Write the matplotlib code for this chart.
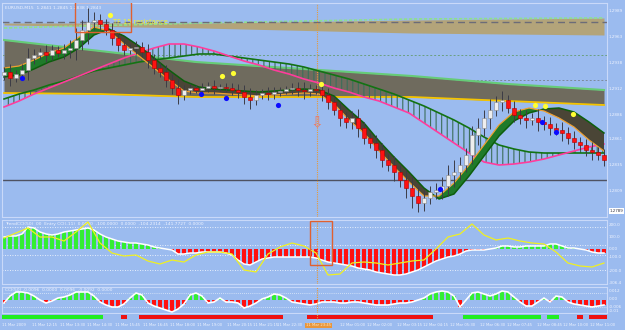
import matplotlib
matplotlib.use("Agg")
import matplotlib.pyplot as plt
import numpy as np

BG = "#9bbbef"
FRAME = "#c9d9f9"
TXT = "#eef3ff"

# ---- main panel (price units: pips above 1.2000) ----
first_open = 925
closes = [928, 922, 926, 930, 942, 945, 948, 945, 950, 947,
          950, 952, 960, 970, 978, 980, 976, 970, 962, 955,
          950, 952, 953, 948, 940, 932, 928, 920, 912, 905,
          910, 912, 910, 912, 914, 912, 913, 912, 910, 908,
          903, 900, 905, 907, 906, 908, 909, 911, 912, 910,
          909, 911, 910, 905, 898, 890, 882, 878, 882, 872,
          862, 857, 850, 840, 835, 828, 820, 812, 804, 797,
          802, 808, 810, 814, 825, 828, 835, 845, 865, 872,
          882, 890, 898, 900, 892, 885, 882, 880, 882, 878,
          876, 872, 870, 867, 862, 858, 855, 850, 848, 845, 840]
wick = [5, 8, 4, 6, 10, 6, 4, 7, 5, 4, 6, 8, 12, 10, 14, 8, 6, 5, 7, 6,
        5, 4, 6, 5, 8, 6, 5, 7, 6, 9, 5, 4, 3, 5, 4, 6, 3, 4, 5, 6,
        7, 9, 5, 4, 6, 5, 4, 3, 5, 6, 8, 5, 4, 6, 7, 5, 8, 6, 7, 9,
        6, 5, 8, 7, 6, 9, 7, 10, 12, 9, 8, 6, 7, 9, 10, 12, 8, 7, 9, 10,
        8, 11, 6, 9, 5, 7, 6, 8, 5, 9, 6, 7, 5, 8, 6, 7, 5, 6, 8, 5, 6]

rib_x = np.arange(0, 101, 2.5)
fast = [932, 934, 940, 947, 952, 963, 973, 969, 956, 944, 932, 920, 909, 907,
        907, 906, 905, 904, 905, 906, 907, 906, 896, 880, 867, 849, 833, 818,
        804, 804, 817, 835, 855, 875, 888, 892, 889, 882, 873, 860, 849]
slow = [923, 925, 931, 938, 943, 952, 965, 971, 964, 954, 942, 930, 919, 913,
        911, 910, 909, 908, 909, 910, 911, 910, 904, 890, 877, 859, 843, 828,
        812, 801, 806, 824, 844, 864, 879, 887, 891, 892, 888, 878, 867]
ma_green = [901, 906, 910, 915, 919, 924, 929, 932, 935, 938, 940, 942, 944,
            946, 946, 944, 942, 940, 938, 936, 933, 929, 925, 921, 916, 911,
            906, 900, 894, 887, 880, 872, 863, 855, 851, 848, 847, 847, 847,
            847, 847]
ma_pink = [893, 899, 906, 912, 918, 924, 930, 936, 942, 947, 952, 956, 956,
           953, 949, 944, 939, 935, 930, 926, 921, 917, 912, 908, 903, 899,
           893, 887, 877, 867, 857, 847, 838, 835, 836, 838, 841, 845, 849,
           853, 856]

cloud_x = [0, 16, 32, 50, 68, 84, 100]
cloud_top = [960, 949, 938, 931, 924, 916, 910]
cloud_bot = [907, 906, 903, 903, 903, 899, 895]

tan_x = [0, 33, 68, 100]
tan_top = [977, 977, 980, 982]
tan_bot = [975, 972, 967, 965]
tan_line = [972, 977, 981, 982]

yellow_x = [17.7, 36.3, 38.2, 52.8, 88.5, 90.2, 94.8]
yellow_v = [985, 924, 927, 916, 895, 894, 886]
blue_x = [3.0, 32.8, 37.0, 45.7, 72.7, 89.7, 92.0]
blue_v = [922, 906, 902, 895, 811, 878, 868]

price_ticks = [989, 963, 938, 912, 886, 861, 835, 809]

# ---- sub panel 1 ----
hist1 = [12, 13, 13, 15, 22, 21, 17, 15, 14, 15, 17, 18, 19, 20, 21, 19, 15,
         12, 10, 8, 7, 6, 6, 5, 4, 2, 1, 0, -1, -5, -5, -4, -4, -3, -3, -3,
         -3, -4, -6, -11, -15, -16, -13, -10, -9, -8, -8, -8, -8, -8, -8, -8,
         -9, -11, -13, -14, -15, -16, -17, -19, -20, -21, -23, -24, -25, -26,
         -26, -25, -23, -21, -18, -15, -12, -10, -8, -7, -5, -2, -1, -1, -1,
         0, 1, 3, 3, 2, 2, 3, 3, 3, 3, 5, 5, 3, 1, 1, 0, -1, -3, -4, -4]
sig_x = np.arange(0, 101, 2)
sig1 = [11, 16, 21, 12, 12, 8, 17, 27, 6, -4, -7, -6, -12, -15, -11, -13, -6,
        -3, -3, -5, -21, -23, -5, 2, 6, 3, -4, -26, -25, -14, -13, -14, -16,
        -14, -12, -11, 0, 12, 15, 25, 14, 9, 11, 8, 6, 5, -3, -14, -17, -18, -14]

# ---- sub panel 2 ----
hist2 = [-3, 4, 8, 8, 7, 4, 0, -3, -1, 2, 3, 5, 8, 8, 8, 4, -2, -5, -7, -7,
         -4, 2, 7, 5, -3, -6, -8, -10, -12, -9, -4, 5, 7, 4, -3, -2, 2, -2, -2,
         -3, -8, -6, -3, 1, 3, 6, 5, 2, -2, -3, -4, -5, -4, -2, -2, -2, -3, -3,
         -2, -2, -3, -4, -5, -5, -5, -4, -3, -3, -2, 0, 2, 6, 8, 9, 8, 4, -7,
         0, 7, 8, 6, 4, 6, 9, 8, 3, -2, -6, -6, -2, 2, -2, 4, 3, -2, -4, -5,
         -6, -7, -6, -5]

strip_start = [0, 20, 23, 51, 77, 91, 96, 98]
strip_len = [17, 1, 24, 21, 13, 2, 1, 3]
strip_col = ["g", "r", "r", "r", "g", "g", "r", "r"]

time_pos = [-0.3, 4.7, 9.3, 13.8, 18.5, 23.2, 27.7, 32.2, 37.2, 41.5, 45.5,
            56, 60.5, 65.5, 69.8, 74.3, 79.3, 83.8, 88.8, 93.2, 97.7]
time_labels = ["11 Mar 2009", "11 Mar 12:15", "11 Mar 13:30", "11 Mar 14:30",
               "11 Mar 15:45", "11 Mar 16:45", "11 Mar 18:00", "11 Mar 19:00",
               "11 Mar 20:15", "11 Mar 21:15", "11 Mar 22:30", "12 Mar 01:00",
               "12 Mar 02:00", "12 Mar 03:15", "12 Mar 04:15", "12 Mar 05:30",
               "12 Mar 06:30", "12 Mar 07:45", "12 Mar 08:45", "12 Mar 10:00",
               "12 Mar 11:00"]
marker_bar = 52.17
marker_label = "11 Mar 23:45"

W, H = 625, 330
fig = plt.figure(figsize=(6.25, 3.3), dpi=100, facecolor=BG)
plt.rcParams["hatch.linewidth"] = 0.8


def panel(x0, y0, x1, y1):
    a = fig.add_axes([x0 / W, 1 - y1 / H, (x1 - x0) / W, (y1 - y0) / H])
    a.set_facecolor(BG)
    a.set_xlim(-1 / 3, 100.5)
    for s in a.spines.values():
        s.set_color(FRAME)
        s.set_linewidth(0.8)
    a.tick_params(length=0, labelsize=3.0, labelcolor=TXT, pad=1.5)
    a.set_xticks([])
    a.yaxis.tick_right()
    return a


# main chart
ax = panel(2, 3, 607, 217)
ax.set_ylim(783, 997)
ax.set_yticks(price_ticks)
ax.set_yticklabels([f"{1.2 + v / 10000:.4f}" for v in price_ticks])

ax.fill_between(tan_x, tan_top, tan_bot, color="#b3a47a", lw=0, zorder=1)
ax.plot(tan_x, tan_line, color="#8fe08f", lw=1.2, ls=(0, (2, 1)), zorder=1.5)
ax.axhline(978, color="#6c6c78", lw=1.0, ls=(0, (5, 3)), zorder=1.6)
ax.axhline(945, color="#6aa080", lw=0.7, ls=(0, (2, 2)), zorder=1)
ax.axhline(920, color="#7c8a9a", lw=0.7, ls=(0, (2, 2)), zorder=1)
ax.axhline(820, color="#4e5262", lw=1.0, zorder=1)

ax.fill_between(cloud_x, cloud_top, cloud_bot, color="#6f6b5e", lw=0, zorder=1.2)
ax.plot(cloud_x, cloud_top, color="#66cc77", lw=1.5, zorder=1.3)
ax.plot(cloud_x, cloud_bot, color="#f5c400", lw=1.3, zorder=1.3)

ax.fill_between(rib_x, ma_green, ma_pink, facecolor="none", edgecolor="#3c6e5a",
                hatch="|||", linewidth=0, zorder=2)
ax.plot(rib_x, ma_green, color="#137313", lw=1.2, zorder=2.5)
ax.plot(rib_x, ma_pink, color="#ff3c9c", lw=1.2, zorder=2.5)

fa, sl = np.array(fast), np.array(slow)
ax.fill_between(rib_x, fa, sl, where=fa >= sl, interpolate=True,
                color="#1f7a2a", lw=0, zorder=3)
ax.fill_between(rib_x, fa, sl, where=fa < sl, interpolate=True,
                color="#4a4536", lw=0, zorder=3)
ax.plot(rib_x, slow, color="#0d5e0d", lw=1.1, zorder=3.2)
ax.plot(rib_x, fast, color="#f0a030", lw=0.9, zorder=3.2)

x = np.arange(len(closes))
c = np.array(closes, float)
o = np.r_[first_open, c[:-1]]
w = np.array(wick)
up = c >= o
ax.vlines(x, np.minimum(o, c) - w, np.maximum(o, c) + w, color="#3c3c46", lw=0.7, zorder=4)
ax.bar(x, np.maximum(np.abs(c - o), 1.0), bottom=np.minimum(o, c), width=0.55,
       color=np.where(up, "#eeeeee", "#ff1111"),
       edgecolor=np.where(up, "#8a8a8a", "#b00000"), linewidth=0.4, zorder=5)

ax.scatter(yellow_x, yellow_v, s=14, color="#ffff33", lw=0, zorder=6)
ax.scatter(blue_x, blue_v, s=14, color="#0a0aff", lw=0, zorder=6)

ax.axvline(marker_bar, color="#e89a3a", lw=0.8, ls=(0, (1, 1)), zorder=2)
ax.text(marker_bar, 877, "\u21e9", color="#f07860", fontsize=11, ha="center",
        va="center", zorder=7)
ax.add_patch(plt.Rectangle((11.8, 968), 9.4, 30, fill=False, ec="#e06030",
                           lw=1.0, zorder=7))
ax.text(18.2, 978, "TF 15 resistance", color="#f0f030", fontsize=4.8,
        va="center", zorder=7)
ax.text(0.005, 0.985, "EURUSD,M15  1.2841 1.2845 1.2838 1.2843", color=TXT,
        fontsize=3.2, transform=ax.transAxes, va="top")
ax.text(1.004, 789, f"{1.2 + 789 / 10000:.4f}", color="#303040", fontsize=2.9,
        va="center", transform=ax.get_yaxis_transform(), clip_on=False,
        bbox=dict(boxstyle="square,pad=0.15", fc="white", ec="none"))

# sub panel 1
a1 = panel(2, 220, 607, 284)
a1.set_ylim(-35, 29)
t1 = [24, 12, 1, -8, -21, -33]
a1.set_yticks(t1)
a1.set_yticklabels(["200.0", "100.0", "0.00", "-100.0", "-200.0", "-306.4"])
for lv in [22, 4, -6, -21]:
    a1.axhline(lv, color="white", lw=0.6, ls=(0, (1, 2)), zorder=1)
h1 = np.array(hist1)
a1.bar(x, h1, width=0.75, color=np.where(h1 >= 0, "#33ee33", "#ff1010"), lw=0, zorder=2)
a1.plot(x, h1, color="white", lw=1.1, zorder=3)
a1.plot(sig_x, sig1, color="#f0f020", lw=0.9, zorder=4)
a1.axvline(marker_bar, color="#e89a3a", lw=0.8, ls=(0, (1, 1)), zorder=5)
a1.add_patch(plt.Rectangle((51.0, -16), 3.6, 44, fill=False, ec="#e06030",
                           lw=1.0, zorder=6))
a1.text(0.005, 0.97, "TrendCCI(50)  00  Entry CCI(-11)  0.0000  -100.0000  0.0000  "
        "-104.2314  -141.7727  0.0000", color=TXT, fontsize=3.2,
        transform=a1.transAxes, va="top")

# sub panel 2
a2 = panel(2, 287, 607, 313)
a2.set_ylim(-13, 13)
t2 = [9, 1, -6, -11]
a2.set_yticks(t2)
a2.set_yticklabels(["0.012", "0.00", "-0.006", "-0.01"])
for lv in [7, -7]:
    a2.axhline(lv, color="white", lw=0.5, ls=(0, (1, 2)), zorder=1)
h2 = np.array(hist2)
a2.bar(x, h2, width=0.75, color=np.where(h2 >= 0, "#33ee33", "#ff1010"), lw=0, zorder=2)
a2.plot(x, h2, color="white", lw=1.2, zorder=3)
a2.axvline(marker_bar, color="#e89a3a", lw=0.8, ls=(0, (1, 1)), zorder=5)
a2.text(0.005, 0.95, "CCI(50) -0.0096  0.0000  0.0096  -0.0092  0.0000", color=TXT,
        fontsize=3.2, transform=a2.transAxes, va="top")

# state strip
a3 = panel(2, 314, 607, 320)
a3.set_ylim(0, 1)
a3.set_yticks([])
for s in a3.spines.values():
    s.set_visible(False)
for st, ln, col in zip(strip_start, strip_len, strip_col):
    a3.broken_barh([(st - 0.5, ln)], (0.1, 0.8),
                   color="#22ee22" if col == "g" else "#ee1111", lw=0)
a3.axvline(marker_bar, color="#e89a3a", lw=0.8, ls=(0, (1, 1)))

# time axis
a4 = panel(2, 320, 607, 330)
a4.set_ylim(0, 1)
a4.set_yticks([])
for s in a4.spines.values():
    s.set_visible(False)
for p, lab in zip(time_pos, time_labels):
    a4.text(p, 0.45, lab, color=TXT, fontsize=2.7, va="center", clip_on=False)
a4.text(marker_bar - 1.9, 0.45, marker_label, color="#ffe9c8", fontsize=2.7,
        va="center", bbox=dict(boxstyle="square,pad=0.25", fc="#e8963c", ec="none"))

fig.savefig("out.png", dpi=100, facecolor=BG)
